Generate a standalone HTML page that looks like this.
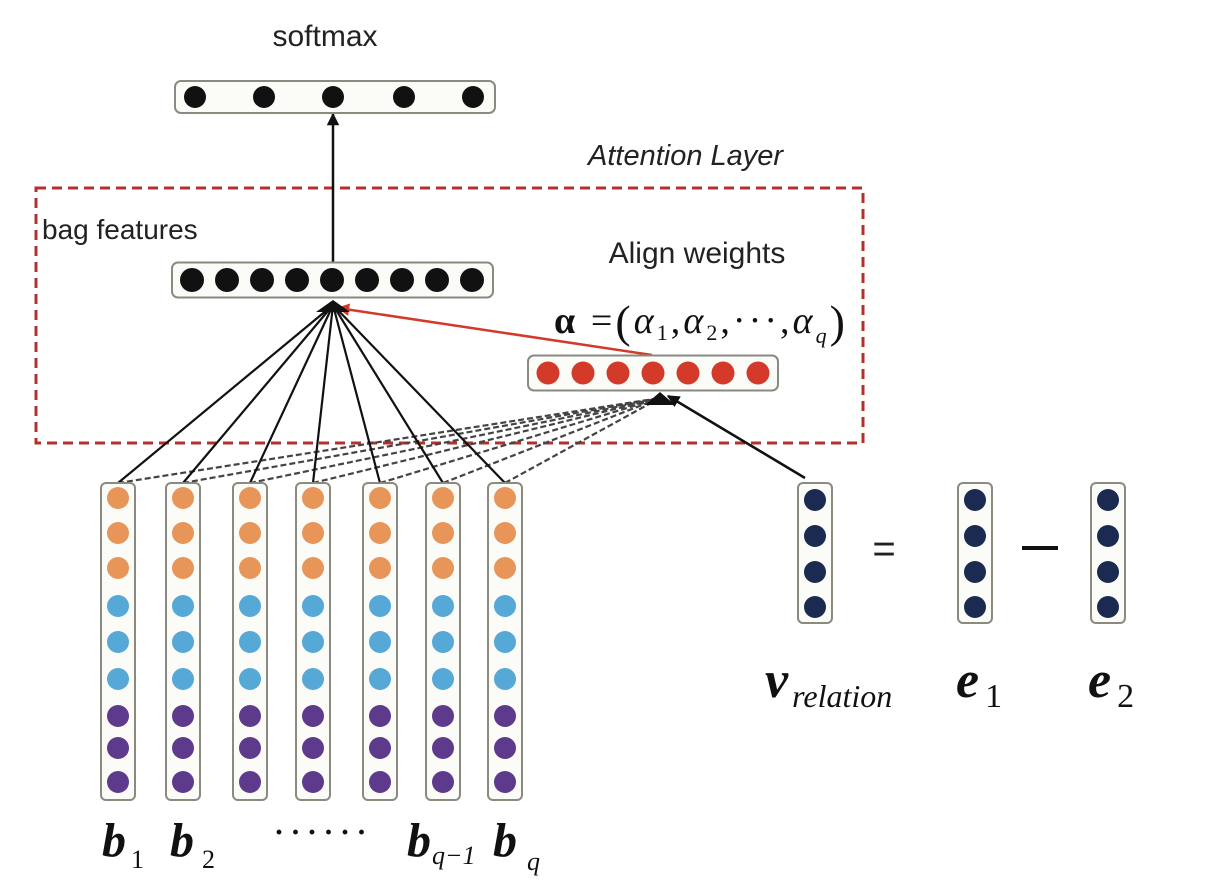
<!DOCTYPE html>
<html><head><meta charset="utf-8">
<style>
html,body{margin:0;padding:0;background:#fff;}
svg{display:block;}
.sans{font-family:"Liberation Sans",sans-serif;fill:#222;}
.serif{font-family:"Liberation Serif",serif;fill:#111;}
</style></head>
<body>
<svg id="fig" width="1208" height="890" viewBox="0 0 1208 890" xmlns="http://www.w3.org/2000/svg">
<defs>
<marker id="ah" viewBox="0 0 10 10" refX="9" refY="5" markerWidth="5" markerHeight="5" orient="auto"><path d="M0,0 L10,5 L0,10 z" fill="#111"/></marker>
<marker id="ahr" viewBox="0 0 10 10" refX="9" refY="5" markerWidth="5" markerHeight="5" orient="auto"><path d="M0,0 L10,5 L0,10 z" fill="#d33a2a"/></marker>
</defs>
<text class="sans" x="325" y="46" font-size="30" text-anchor="middle">softmax</text>
<text class="sans" x="588" y="165" font-size="29" font-style="italic">Attention Layer</text>
<rect x="36" y="188" width="827" height="255" fill="none" stroke="#b5302a" stroke-width="3" stroke-dasharray="10,6"/>
<text class="sans" x="42" y="239" font-size="28">bag features</text>
<text class="sans" x="697" y="263" font-size="30" text-anchor="middle">Align weights</text>
<text class="serif" x="554" y="333" font-size="38" textLength="291" lengthAdjust="spacing"><tspan font-weight="bold">α</tspan> =<tspan font-size="46" dy="4">(</tspan><tspan font-style="italic" dy="-4">α</tspan><tspan font-size="22" dy="7">1</tspan><tspan dy="-7">,</tspan><tspan font-style="italic">α</tspan><tspan font-size="22" dy="7">2</tspan><tspan dy="-7">,···,</tspan><tspan font-style="italic">α</tspan><tspan font-size="22" font-style="italic" dy="10">q</tspan><tspan font-size="46" dy="-6">)</tspan></text>
<g id="lines"></g>
<g id="boxes"></g>
<text class="sans" x="884" y="562" font-size="40" text-anchor="middle">=</text>
<rect x="1022" y="546" width="36" height="4" fill="#111"/>
<text class="serif" x="274" y="842" font-size="30" font-weight="bold" letter-spacing="6.5">······</text>
<g id="labels"></g>
</svg>
<script>
const NS="http://www.w3.org/2000/svg";
const softmaxDots=[195,264,333,404,473];
const bagDots=[192,227,262,297,332,367,402,437,472];
const alignDots=[548,583,618,653,688,723,758];
const colX=[118,183,250,313,380,443,505];
const colColors=["#e8955a","#e8955a","#e8955a","#56a8d6","#56a8d6","#56a8d6","#5e3a8c","#5e3a8c","#5e3a8c"];
const colDotY=[498,533,568,606,642,679,716,748,782];
const vecX=[815,975,1108];
const vecDotY=[500,536,572,607];
const bLabels=[["b","1"],["b","2"],null,null,null,["b","q−1"],["b","q"]];
const bLabelX=[102,170,0,0,0,407,493];
const bSubDx=[5,8,0,0,0,1,10];
const bSubDy=[12,12,0,0,0,8,14];
const vecLabels=[["v","relation"],["e","1"],["e","2"]];

function el(tag,attrs,parent){const e=document.createElementNS(NS,tag);for(const k in attrs)e.setAttribute(k,attrs[k]);parent.appendChild(e);return e;}
const boxes=document.getElementById('boxes'),lines=document.getElementById('lines'),labels=document.getElementById('labels');
function hbox(x0,x1,cy,h,name){const r=el('rect',{x:x0,y:cy-h/2,width:x1-x0,height:h,rx:6,fill:'#fbfbf7',stroke:'#8a8a80','stroke-width':2},boxes);

}
function dot(cx,cy,r,fill,name){const c=el('circle',{cx:cx,cy:cy,r:r,fill:fill},boxes);

}

colX.forEach((x,i)=>{
 const d=el('line',{x1:x,y1:483,x2:660,y2:398,stroke:'#444','stroke-width':2.2,'stroke-dasharray':'6,3'},lines);
 
 
 const s=el('line',{x1:x,y1:483,x2:333,y2:305,stroke:'#111','stroke-width':2.2},lines);
 
 
});
let a=el('line',{x1:805,y1:478,x2:668,y2:396,stroke:'#111','stroke-width':2.5,'marker-end':'url(#ah)'},lines);


a=el('line',{x1:652,y1:355,x2:338,y2:308,stroke:'#d33a2a','stroke-width':2.5,'marker-end':'url(#ahr)'},lines);


a=el('line',{x1:333,y1:264,x2:333,y2:114,stroke:'#111','stroke-width':2.5,'marker-end':'url(#ah)'},lines);


a=el('path',{d:'M316,312 L333,300 L350,312 Z',fill:'#111'},lines);


a=el('path',{d:'M645,405 L660,392 L675,405 Z',fill:'#111'},lines);



hbox(175,495,97,32,'softmax-vector');
softmaxDots.forEach((x,i)=>dot(x,97,11,'#111','softmax-node-'+(i+1)));
hbox(172,493,280,35,'bag-feature-vector');
bagDots.forEach((x,i)=>dot(x,280,12,'#111','bag-node-'+(i+1)));
hbox(528,778,373,35,'align-weight-vector');
alignDots.forEach((x,i)=>dot(x,373,11.5,'#d33a2a','align-node-'+(i+1)));
colX.forEach((x,i)=>{
 const r=el('rect',{x:x-17,y:483,width:34,height:317,rx:5,fill:'#fbfbf7',stroke:'#8a8a80','stroke-width':2},boxes);
 
 
 colDotY.forEach((y,j)=>dot(x,y,11,colColors[j],'sentence-'+(i+1)+'-node-'+(j+1)));
});
vecX.forEach((x,i)=>{
 const r=el('rect',{x:x-17,y:483,width:34,height:140,rx:5,fill:'#fbfbf7',stroke:'#8a8a80','stroke-width':2},boxes);
 
 
 vecDotY.forEach((y,j)=>dot(x,y,11,'#1b2a50','vector-'+(i+1)+'-node-'+(j+1)));
});

colX.forEach((x,i)=>{
 const L=bLabels[i]; if(!L) return;
 const t=el('text',{x:bLabelX[i],y:856,'font-size':48,class:'serif'},labels);
 
 
 const m=el('tspan',{'font-weight':'bold','font-style':'italic'},t); m.textContent=L[0];
 const s=el('tspan',{'font-size':26,dx:bSubDx[i],dy:bSubDy[i],'font-style':L[1]=='1'||L[1]=='2'?'normal':'italic'},t); s.textContent=L[1];
});
const vX=[765,956,1088], vSub=[32,34,34], vDx=[4,6,6];
vecLabels.forEach((L,i)=>{
 const t=el('text',{x:vX[i],y:697,'font-size':52,class:'serif'},labels);
 
 
 const m=el('tspan',{'font-weight':'bold','font-style':'italic'},t); m.textContent=L[0];
 const s=el('tspan',{'font-size':vSub[i],dx:vDx[i],dy:10,'font-style':i==0?'italic':'normal'},t); s.textContent=L[1];
});
</script>
</body></html>
